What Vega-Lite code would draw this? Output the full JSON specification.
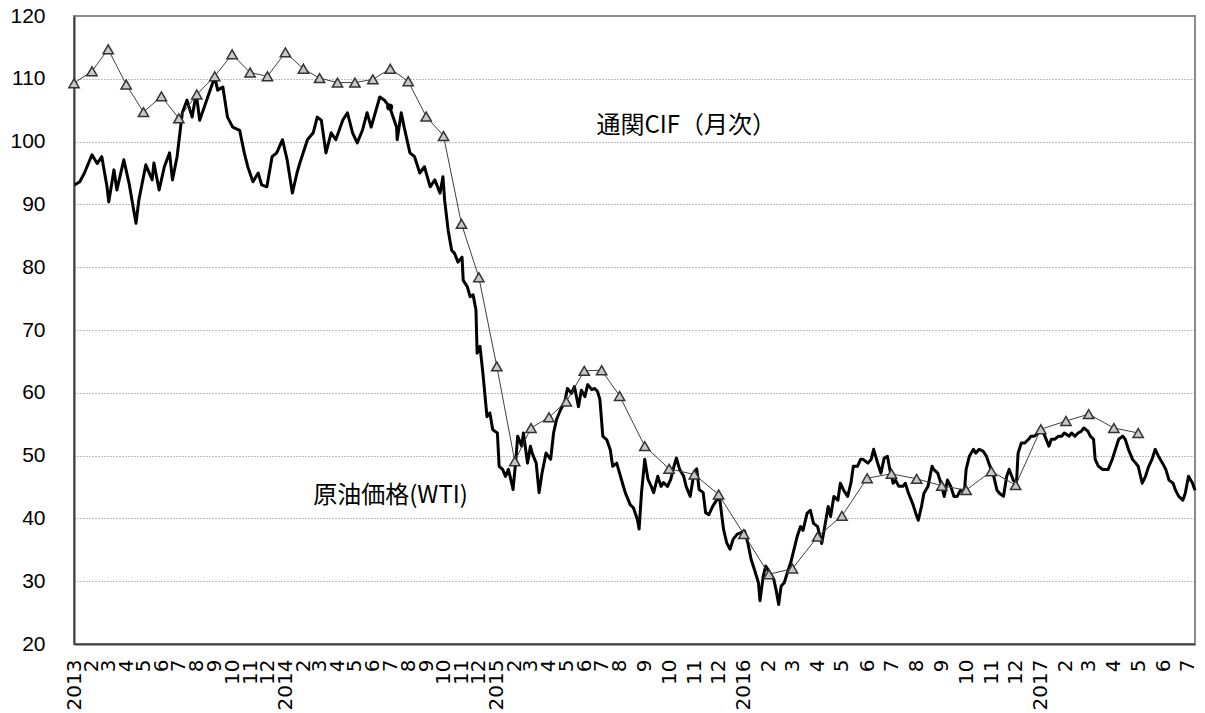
{
  "$schema": "https://vega.github.io/schema/vega-lite/v6.json",
  "width": 1121,
  "height": 628,
  "autosize": {"type": "none"},
  "padding": {"left": 74, "top": 16, "right": 10, "bottom": 69},
  "background": "white",
  "config": {
    "view": {"stroke": "#8c8c8c", "strokeWidth": 2},
    "font": "Liberation Sans"
  },
  "datasets": {
    "wti": [
      {"d": "2013-01-02", "v": 93.1}, {"d": "2013-01-11", "v": 93.6}, {"d": "2013-01-19", "v": 95.0},
      {"d": "2013-02-01", "v": 97.9}, {"d": "2013-02-10", "v": 96.5}, {"d": "2013-02-18", "v": 97.6},
      {"d": "2013-02-27", "v": 92.8}, {"d": "2013-03-02", "v": 90.4}, {"d": "2013-03-11", "v": 95.5},
      {"d": "2013-03-16", "v": 92.3}, {"d": "2013-03-28", "v": 97.1}, {"d": "2013-04-06", "v": 93.4},
      {"d": "2013-04-15", "v": 88.6}, {"d": "2013-04-18", "v": 87.0}, {"d": "2013-04-23", "v": 90.7},
      {"d": "2013-05-05", "v": 96.3}, {"d": "2013-05-16", "v": 93.9}, {"d": "2013-05-19", "v": 96.6},
      {"d": "2013-05-28", "v": 92.3}, {"d": "2013-06-06", "v": 96.0}, {"d": "2013-06-15", "v": 98.2},
      {"d": "2013-06-20", "v": 93.9}, {"d": "2013-06-28", "v": 97.6}, {"d": "2013-07-07", "v": 104.6},
      {"d": "2013-07-15", "v": 106.6}, {"d": "2013-07-24", "v": 103.9}, {"d": "2013-07-31", "v": 107.7},
      {"d": "2013-08-06", "v": 103.4}, {"d": "2013-08-18", "v": 106.6}, {"d": "2013-08-26", "v": 108.7},
      {"d": "2013-09-01", "v": 110.3}, {"d": "2013-09-06", "v": 108.2}, {"d": "2013-09-15", "v": 108.7},
      {"d": "2013-09-23", "v": 103.9}, {"d": "2013-10-02", "v": 102.3}, {"d": "2013-10-14", "v": 101.8},
      {"d": "2013-10-22", "v": 98.2}, {"d": "2013-10-28", "v": 96.0}, {"d": "2013-11-06", "v": 93.6},
      {"d": "2013-11-15", "v": 95.0}, {"d": "2013-11-21", "v": 93.1}, {"d": "2013-11-30", "v": 92.8},
      {"d": "2013-12-09", "v": 97.6}, {"d": "2013-12-17", "v": 98.2}, {"d": "2013-12-27", "v": 100.3},
      {"d": "2014-01-04", "v": 97.1}, {"d": "2014-01-13", "v": 91.8}, {"d": "2014-01-21", "v": 95.0},
      {"d": "2014-01-26", "v": 96.6}, {"d": "2014-02-08", "v": 100.3}, {"d": "2014-02-18", "v": 101.4},
      {"d": "2014-02-25", "v": 103.9}, {"d": "2014-03-04", "v": 103.4}, {"d": "2014-03-12", "v": 98.2},
      {"d": "2014-03-21", "v": 101.4}, {"d": "2014-03-29", "v": 100.3}, {"d": "2014-04-10", "v": 103.4},
      {"d": "2014-04-18", "v": 104.6}, {"d": "2014-04-27", "v": 101.4}, {"d": "2014-05-05", "v": 99.8},
      {"d": "2014-05-14", "v": 101.8}, {"d": "2014-05-22", "v": 104.6}, {"d": "2014-05-29", "v": 102.3},
      {"d": "2014-06-13", "v": 107.1}, {"d": "2014-06-21", "v": 106.6}, {"d": "2014-06-30", "v": 105.5},
      {"d": "2014-07-12", "v": 102.3}, {"d": "2014-07-13", "v": 100.3}, {"d": "2014-07-20", "v": 104.6},
      {"d": "2014-07-25", "v": 102.3}, {"d": "2014-08-04", "v": 98.2}, {"d": "2014-08-12", "v": 97.6},
      {"d": "2014-08-21", "v": 95.0}, {"d": "2014-08-29", "v": 96.0}, {"d": "2014-09-08", "v": 92.8},
      {"d": "2014-09-16", "v": 93.9}, {"d": "2014-09-25", "v": 91.8}, {"d": "2014-09-30", "v": 94.4},
      {"d": "2014-10-03", "v": 90.6}, {"d": "2014-10-09", "v": 85.9}, {"d": "2014-10-15", "v": 82.7},
      {"d": "2014-10-20", "v": 82.2}, {"d": "2014-10-26", "v": 80.8}, {"d": "2014-11-02", "v": 81.6},
      {"d": "2014-11-04", "v": 77.9}, {"d": "2014-11-11", "v": 76.9}, {"d": "2014-11-16", "v": 75.3},
      {"d": "2014-11-21", "v": 75.6}, {"d": "2014-11-26", "v": 73.2}, {"d": "2014-11-28", "v": 66.3},
      {"d": "2014-12-03", "v": 67.4}, {"d": "2014-12-08", "v": 63.1}, {"d": "2014-12-15", "v": 56.2},
      {"d": "2014-12-20", "v": 56.8}, {"d": "2014-12-25", "v": 54.1}, {"d": "2015-01-02", "v": 53.6},
      {"d": "2015-01-05", "v": 48.3}, {"d": "2015-01-11", "v": 47.8}, {"d": "2015-01-16", "v": 46.7},
      {"d": "2015-01-21", "v": 47.8}, {"d": "2015-01-28", "v": 45.1}, {"d": "2015-01-29", "v": 44.6},
      {"d": "2015-02-03", "v": 49.4}, {"d": "2015-02-06", "v": 53.1}, {"d": "2015-02-13", "v": 51.5},
      {"d": "2015-02-16", "v": 53.6}, {"d": "2015-02-23", "v": 48.8}, {"d": "2015-02-28", "v": 51.5},
      {"d": "2015-03-03", "v": 50.4}, {"d": "2015-03-10", "v": 48.8}, {"d": "2015-03-15", "v": 44.1},
      {"d": "2015-03-20", "v": 47.2}, {"d": "2015-03-27", "v": 50.4}, {"d": "2015-04-04", "v": 49.4},
      {"d": "2015-04-09", "v": 53.6}, {"d": "2015-04-14", "v": 55.7}, {"d": "2015-04-21", "v": 57.3},
      {"d": "2015-04-28", "v": 58.4}, {"d": "2015-05-03", "v": 60.7}, {"d": "2015-05-10", "v": 59.9},
      {"d": "2015-05-15", "v": 61.0}, {"d": "2015-05-22", "v": 57.8}, {"d": "2015-05-27", "v": 60.4},
      {"d": "2015-06-02", "v": 59.4}, {"d": "2015-06-07", "v": 61.3}, {"d": "2015-06-14", "v": 60.5},
      {"d": "2015-06-19", "v": 60.7}, {"d": "2015-06-24", "v": 60.2}, {"d": "2015-06-28", "v": 58.9},
      {"d": "2015-07-03", "v": 53.1}, {"d": "2015-07-10", "v": 52.5}, {"d": "2015-07-16", "v": 50.9},
      {"d": "2015-07-20", "v": 48.3}, {"d": "2015-07-27", "v": 48.8}, {"d": "2015-08-05", "v": 45.4},
      {"d": "2015-08-08", "v": 44.1}, {"d": "2015-08-14", "v": 42.2}, {"d": "2015-08-18", "v": 41.7},
      {"d": "2015-08-23", "v": 39.8}, {"d": "2015-08-25", "v": 38.3}, {"d": "2015-08-28", "v": 44.1},
      {"d": "2015-09-01", "v": 49.4}, {"d": "2015-09-05", "v": 46.2}, {"d": "2015-09-09", "v": 45.1},
      {"d": "2015-09-12", "v": 44.1}, {"d": "2015-09-17", "v": 46.7}, {"d": "2015-09-21", "v": 45.1},
      {"d": "2015-09-24", "v": 45.7}, {"d": "2015-09-29", "v": 45.1}, {"d": "2015-10-03", "v": 46.2},
      {"d": "2015-10-07", "v": 48.3}, {"d": "2015-10-10", "v": 49.6}, {"d": "2015-10-14", "v": 47.8},
      {"d": "2015-10-19", "v": 46.7}, {"d": "2015-10-22", "v": 45.1}, {"d": "2015-10-27", "v": 43.5},
      {"d": "2015-10-31", "v": 46.7}, {"d": "2015-11-04", "v": 47.9}, {"d": "2015-11-07", "v": 44.6},
      {"d": "2015-11-12", "v": 44.1}, {"d": "2015-11-15", "v": 40.9}, {"d": "2015-11-19", "v": 40.6},
      {"d": "2015-11-24", "v": 42.0}, {"d": "2015-11-28", "v": 42.8}, {"d": "2015-12-02", "v": 43.5},
      {"d": "2015-12-07", "v": 38.3}, {"d": "2015-12-11", "v": 36.1}, {"d": "2015-12-15", "v": 35.1},
      {"d": "2015-12-19", "v": 36.7}, {"d": "2015-12-24", "v": 37.5}, {"d": "2015-12-28", "v": 37.7},
      {"d": "2016-01-02", "v": 38.0}, {"d": "2016-01-06", "v": 36.1}, {"d": "2016-01-10", "v": 33.5},
      {"d": "2016-01-14", "v": 31.9}, {"d": "2016-01-19", "v": 29.8}, {"d": "2016-01-21", "v": 26.9},
      {"d": "2016-01-25", "v": 30.8}, {"d": "2016-01-28", "v": 32.4}, {"d": "2016-02-02", "v": 31.4},
      {"d": "2016-02-07", "v": 30.3}, {"d": "2016-02-10", "v": 28.5}, {"d": "2016-02-13", "v": 26.3},
      {"d": "2016-02-16", "v": 29.2}, {"d": "2016-02-20", "v": 29.8}, {"d": "2016-02-25", "v": 31.9},
      {"d": "2016-02-28", "v": 33.0}, {"d": "2016-03-02", "v": 34.6}, {"d": "2016-03-07", "v": 37.2},
      {"d": "2016-03-11", "v": 38.7}, {"d": "2016-03-14", "v": 38.1}, {"d": "2016-03-19", "v": 40.8},
      {"d": "2016-03-23", "v": 41.3}, {"d": "2016-03-27", "v": 39.2}, {"d": "2016-04-01", "v": 38.7},
      {"d": "2016-04-06", "v": 36.0}, {"d": "2016-04-09", "v": 38.1}, {"d": "2016-04-14", "v": 41.9},
      {"d": "2016-04-17", "v": 40.3}, {"d": "2016-04-21", "v": 43.5}, {"d": "2016-04-26", "v": 42.9},
      {"d": "2016-04-29", "v": 45.6}, {"d": "2016-05-03", "v": 44.5}, {"d": "2016-05-08", "v": 43.5},
      {"d": "2016-05-12", "v": 45.6}, {"d": "2016-05-15", "v": 48.3}, {"d": "2016-05-20", "v": 48.3},
      {"d": "2016-05-24", "v": 49.4}, {"d": "2016-05-27", "v": 49.4}, {"d": "2016-06-02", "v": 48.8},
      {"d": "2016-06-06", "v": 49.4}, {"d": "2016-06-09", "v": 51.0}, {"d": "2016-06-14", "v": 48.8},
      {"d": "2016-06-18", "v": 47.2}, {"d": "2016-06-22", "v": 49.6}, {"d": "2016-06-26", "v": 49.9},
      {"d": "2016-06-29", "v": 47.8}, {"d": "2016-07-03", "v": 45.6}, {"d": "2016-07-06", "v": 46.1},
      {"d": "2016-07-10", "v": 45.1}, {"d": "2016-07-15", "v": 45.1}, {"d": "2016-07-18", "v": 45.6},
      {"d": "2016-07-22", "v": 44.0}, {"d": "2016-07-27", "v": 42.4}, {"d": "2016-07-31", "v": 40.8},
      {"d": "2016-08-03", "v": 39.7}, {"d": "2016-08-07", "v": 41.9}, {"d": "2016-08-10", "v": 44.0},
      {"d": "2016-08-15", "v": 45.1}, {"d": "2016-08-20", "v": 48.3}, {"d": "2016-08-22", "v": 47.8},
      {"d": "2016-08-27", "v": 47.2}, {"d": "2016-08-31", "v": 45.6}, {"d": "2016-09-04", "v": 43.5},
      {"d": "2016-09-08", "v": 46.1}, {"d": "2016-09-12", "v": 45.1}, {"d": "2016-09-16", "v": 43.5},
      {"d": "2016-09-20", "v": 43.5}, {"d": "2016-09-24", "v": 44.5}, {"d": "2016-09-29", "v": 44.5},
      {"d": "2016-10-01", "v": 47.8}, {"d": "2016-10-05", "v": 49.9}, {"d": "2016-10-10", "v": 51.0},
      {"d": "2016-10-13", "v": 50.4}, {"d": "2016-10-17", "v": 51.0}, {"d": "2016-10-22", "v": 50.7},
      {"d": "2016-10-26", "v": 49.9}, {"d": "2016-10-29", "v": 48.8}, {"d": "2016-11-04", "v": 46.7},
      {"d": "2016-11-08", "v": 44.5}, {"d": "2016-11-11", "v": 44.0}, {"d": "2016-11-16", "v": 43.5},
      {"d": "2016-11-20", "v": 46.7}, {"d": "2016-11-23", "v": 47.8}, {"d": "2016-11-28", "v": 46.1},
      {"d": "2016-12-02", "v": 45.6}, {"d": "2016-12-04", "v": 50.4}, {"d": "2016-12-08", "v": 52.0},
      {"d": "2016-12-12", "v": 52.0}, {"d": "2016-12-17", "v": 52.6}, {"d": "2016-12-20", "v": 53.1},
      {"d": "2016-12-24", "v": 53.1}, {"d": "2016-12-29", "v": 53.6}, {"d": "2017-01-02", "v": 54.2},
      {"d": "2017-01-06", "v": 53.1}, {"d": "2017-01-11", "v": 51.5}, {"d": "2017-01-14", "v": 52.6},
      {"d": "2017-01-18", "v": 52.6}, {"d": "2017-01-23", "v": 53.1}, {"d": "2017-01-27", "v": 53.1},
      {"d": "2017-01-30", "v": 53.6}, {"d": "2017-02-05", "v": 53.1}, {"d": "2017-02-08", "v": 53.6},
      {"d": "2017-02-12", "v": 53.1}, {"d": "2017-02-16", "v": 53.6}, {"d": "2017-02-20", "v": 53.9},
      {"d": "2017-02-23", "v": 54.4}, {"d": "2017-02-28", "v": 53.9}, {"d": "2017-03-03", "v": 53.1},
      {"d": "2017-03-07", "v": 52.6}, {"d": "2017-03-09", "v": 49.4}, {"d": "2017-03-13", "v": 48.3},
      {"d": "2017-03-18", "v": 47.8}, {"d": "2017-03-21", "v": 47.8}, {"d": "2017-03-25", "v": 47.8},
      {"d": "2017-03-30", "v": 49.4}, {"d": "2017-04-03", "v": 51.0}, {"d": "2017-04-07", "v": 52.6},
      {"d": "2017-04-12", "v": 53.1}, {"d": "2017-04-15", "v": 52.6}, {"d": "2017-04-19", "v": 51.0},
      {"d": "2017-04-24", "v": 49.4}, {"d": "2017-04-28", "v": 48.8}, {"d": "2017-05-01", "v": 48.3},
      {"d": "2017-05-06", "v": 45.6}, {"d": "2017-05-10", "v": 46.7}, {"d": "2017-05-14", "v": 48.3},
      {"d": "2017-05-18", "v": 49.4}, {"d": "2017-05-22", "v": 51.0}, {"d": "2017-05-26", "v": 49.9},
      {"d": "2017-05-31", "v": 48.8}, {"d": "2017-06-04", "v": 47.8}, {"d": "2017-06-08", "v": 46.1},
      {"d": "2017-06-13", "v": 45.6}, {"d": "2017-06-16", "v": 44.5}, {"d": "2017-06-20", "v": 43.5},
      {"d": "2017-06-25", "v": 42.9}, {"d": "2017-06-28", "v": 44.0}, {"d": "2017-07-02", "v": 46.7},
      {"d": "2017-07-07", "v": 45.6}, {"d": "2017-07-10", "v": 44.5}
    ],
    "wti_mark": [
      {"d": "2014-06-30", "v": 105.5}
    ],
    "cif": [
      {"d": "2013-01-01", "v": 109.3}, {"d": "2013-02-01", "v": 111.2}, {"d": "2013-03-01", "v": 114.7},
      {"d": "2013-04-01", "v": 109.1}, {"d": "2013-05-01", "v": 104.7}, {"d": "2013-06-01", "v": 107.2},
      {"d": "2013-07-01", "v": 103.7}, {"d": "2013-08-01", "v": 107.5}, {"d": "2013-09-01", "v": 110.4},
      {"d": "2013-10-01", "v": 113.9}, {"d": "2013-11-01", "v": 111.0}, {"d": "2013-12-01", "v": 110.4},
      {"d": "2014-01-01", "v": 114.2}, {"d": "2014-02-01", "v": 111.6}, {"d": "2014-03-01", "v": 110.1},
      {"d": "2014-04-01", "v": 109.4}, {"d": "2014-05-01", "v": 109.4}, {"d": "2014-06-01", "v": 109.9},
      {"d": "2014-07-01", "v": 111.6}, {"d": "2014-08-01", "v": 109.6}, {"d": "2014-09-01", "v": 104.0},
      {"d": "2014-10-01", "v": 100.9}, {"d": "2014-11-01", "v": 86.9}, {"d": "2014-12-01", "v": 78.4},
      {"d": "2015-01-01", "v": 64.2}, {"d": "2015-02-01", "v": 49.1}, {"d": "2015-03-01", "v": 54.4},
      {"d": "2015-04-01", "v": 56.1}, {"d": "2015-05-01", "v": 58.6}, {"d": "2015-06-01", "v": 63.5},
      {"d": "2015-07-01", "v": 63.6}, {"d": "2015-08-01", "v": 59.5}, {"d": "2015-09-01", "v": 51.5},
      {"d": "2015-10-01", "v": 47.9}, {"d": "2015-11-01", "v": 47.0}, {"d": "2015-12-01", "v": 43.8},
      {"d": "2016-01-01", "v": 37.5}, {"d": "2016-02-01", "v": 31.1}, {"d": "2016-03-01", "v": 32.0},
      {"d": "2016-04-01", "v": 37.1}, {"d": "2016-05-01", "v": 40.4}, {"d": "2016-06-01", "v": 46.4},
      {"d": "2016-07-01", "v": 47.1}, {"d": "2016-08-01", "v": 46.3}, {"d": "2016-09-01", "v": 45.2},
      {"d": "2016-10-01", "v": 44.5}, {"d": "2016-11-01", "v": 47.5}, {"d": "2016-12-01", "v": 45.3},
      {"d": "2017-01-01", "v": 54.2}, {"d": "2017-02-01", "v": 55.5}, {"d": "2017-03-01", "v": 56.6},
      {"d": "2017-04-01", "v": 54.4}, {"d": "2017-05-01", "v": 53.6}
    ],
    "notes": [
      {"d": "2015-06-22", "v": 102.5, "t": "通関CIF（月次）"},
      {"d": "2014-02-18", "v": 43.6, "t": "原油価格(WTI)"}
    ]
  },
  "encoding": {
    "x": {
      "field": "d",
      "type": "quantitative",
      "scale": {
        "type": "linear",
        "zero": false,
        "nice": false,
        "domain": [1356998400000, 1438387200000, 1499644800000],
        "range": [0, 545.6, 1121]
      },
      "axis": {
        "title": null,
        "values": [
          1356998400000, 1359676800000, 1362096000000, 1364774400000, 1367366400000, 1370044800000,
          1372636800000, 1375315200000, 1377993600000, 1380585600000, 1383264000000, 1385856000000,
          1388534400000, 1391212800000, 1393632000000, 1396310400000, 1398902400000, 1401580800000,
          1404172800000, 1406851200000, 1409529600000, 1412121600000, 1414800000000, 1417392000000,
          1420070400000, 1422748800000, 1425168000000, 1427846400000, 1430438400000, 1433116800000,
          1435708800000, 1438387200000, 1441065600000, 1443657600000, 1446336000000, 1448928000000,
          1451606400000, 1454284800000, 1456790400000, 1459468800000, 1462060800000, 1464739200000,
          1467331200000, 1470009600000, 1472688000000, 1475280000000, 1477958400000, 1480550400000,
          1483228800000, 1485907200000, 1488326400000, 1491004800000, 1493596800000, 1496275200000,
          1498867200000
        ],
        "labelExpr": "utcmonth(datum.value) == 0 ? utcFormat(datum.value, '%Y') : toString(utcmonth(datum.value) + 1)",
        "labelAngle": -90,
        "labelOverlap": false,
        "labelFlush": false,
        "labelBound": false,
        "ticks": false,
        "tickSize": 0,
        "labelPadding": 15,
        "labelFont": "DejaVu Sans",
        "labelFontSize": 20,
        "labelColor": "black",
        "domainColor": "#404040",
        "domainWidth": 2,
        "grid": false
      }
    },
    "y": {
      "field": "v",
      "type": "quantitative",
      "scale": {"domain": [20, 120]},
      "axis": {
        "title": null,
        "values": [20, 30, 40, 50, 60, 70, 80, 90, 100, 110, 120],
        "ticks": false,
        "tickSize": 0,
        "labelPadding": 29,
        "labelFont": "Liberation Sans",
        "labelFontSize": 21,
        "labelColor": "black",
        "domainColor": "#404040",
        "domainWidth": 2,
        "grid": true,
        "gridColor": "#808080",
        "gridDash": [1, 2],
        "gridWidth": 1,
        "gridOpacity": {"condition": {"test": "datum.value == 20 || datum.value == 120", "value": 0}, "value": 1}
      }
    }
  },
  "layer": [
    {
      "data": {"name": "wti", "format": {"parse": {"d": "date"}}},
      "mark": {"type": "line", "color": "black", "strokeWidth": 3, "strokeJoin": "round"}
    },
    {
      "data": {"name": "wti_mark", "format": {"parse": {"d": "date"}}},
      "mark": {"type": "point", "filled": true, "color": "black", "size": 50, "opacity": 1}
    },
    {
      "data": {"name": "cif", "format": {"parse": {"d": "date"}}},
      "mark": {"type": "line", "color": "#404040", "strokeWidth": 1}
    },
    {
      "data": {"name": "cif", "format": {"parse": {"d": "date"}}},
      "mark": {"type": "point", "shape": "triangle-up", "size": 105, "filled": true, "fill": "#c8c8c8", "stroke": "#333333", "strokeWidth": 1.5, "opacity": 1}
    },
    {
      "data": {"name": "notes", "format": {"parse": {"d": "date"}}},
      "mark": {"type": "text", "align": "left", "baseline": "middle", "font": "Noto Sans CJK JP", "fontSize": 24, "color": "black"},
      "encoding": {"text": {"field": "t"}}
    }
  ]
}
